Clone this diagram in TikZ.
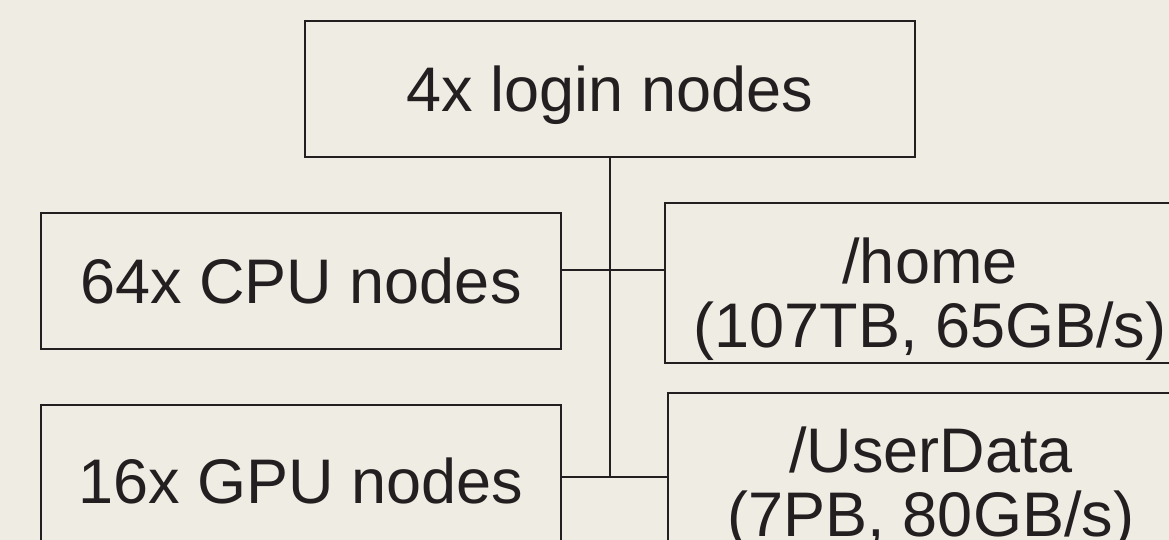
\documentclass[tikz,border=0pt]{standalone}
\usepackage{fontspec}
\setmainfont{Liberation Sans}
\definecolor{bg}{HTML}{EFECE4}
\definecolor{ink}{HTML}{231F20}
\begin{document}
\begin{tikzpicture}[x=1pt,y=1pt,
  every node/.style={text=ink},
  box/.style={draw=ink, line width=2pt, inner sep=0pt, font=\fontsize{63}{64}\selectfont, text depth=0pt},
  frame/.style={draw=ink, line width=2pt, inner sep=0pt},
  lbl/.style={align=center, inner sep=0pt, font=\fontsize{63}{64}\selectfont},
  wire/.style={draw=ink, line width=2pt}]
\path[use as bounding box, fill=bg] (0,0) rectangle (1169,540);
\clip (0,0) rectangle (1169,540);
% nodes
\node[box, minimum width=610, minimum height=136] (login) at (610,451) {4x login nodes};
\node[box, minimum width=520, minimum height=136] (cpu) at (301,259) {64x CPU nodes};
\node[box, minimum width=520, minimum height=151] (gpu) at (301,59.5) {16x GPU nodes};
\node[frame, minimum width=530, minimum height=160] (home) at (930,257) {};
\node[lbl] (homeT) at (930,241) {/home\\(107TB, 65GB/s)};
\node[frame, minimum width=526, minimum height=160] (ud) at (931,67) {};
\node[lbl] (udT) at (931,52) {/UserData\\(7PB, 80GB/s)};
% junctions
\coordinate (j1) at (610,270);
\coordinate (j2) at (610,63);
% connectors
\draw[wire] (login.south) -- (j2);
\draw[wire] (cpu.east |- j1) -- (home.west |- j1);
\draw[wire] (gpu.east |- j2) -- (ud.west |- j2);
\end{tikzpicture}
\end{document}
